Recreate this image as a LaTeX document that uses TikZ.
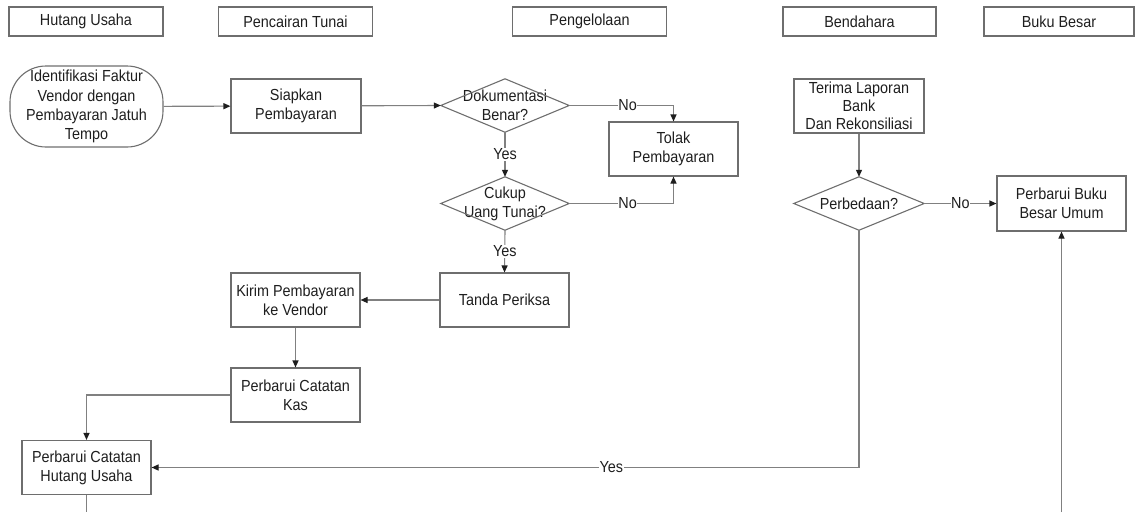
\documentclass[tikz,border=0pt]{standalone}
\usepackage{fontspec}
\setmainfont{Liberation Sans}[FakeStretch=0.9]
\usetikzlibrary{arrows.meta}

\definecolor{edgegray}{HTML}{6E6E6E}
\definecolor{linegray}{HTML}{808080}
\definecolor{inkgray}{HTML}{1E1E1E}
\newcommand{\flowfont}{\fontsize{16}{19.2}\selectfont}

\tikzset{
  outline/.style={draw=edgegray, line width=1.1pt},
  header/.style={outline, minimum width=154pt, minimum height=29pt, inner sep=0pt,
    font=\flowfont, text=inkgray},
  procbox/.style={outline, minimum width=129pt, minimum height=54pt, inner sep=0pt,
    align=center, font=\flowfont, text=inkgray},
  terminal/.style={outline, rounded corners=36pt, minimum width=153pt, minimum height=81pt,
    inner sep=0pt, align=center, font=\flowfont, text=inkgray},
  decision/.style={minimum width=128pt, minimum height=53pt, inner sep=0pt,
    align=center, font=\flowfont, text=inkgray},
  flow/.style={draw=linegray, line width=1.1pt},
  arrowed/.style={flow, -{Triangle[length=7pt,width=6pt,color=inkgray]}},
  tag/.style={fill=white, inner sep=0.6pt, font=\flowfont, text=inkgray}
}

\begin{document}
\begin{tikzpicture}[x=1pt, y=-1pt]
\useasboundingbox (0,0) rectangle (1136,512);

% column headers
\node[header] (hAP)   at (86,21.5)   {Hutang Usaha};
\node[header] (hCash) at (295.5,21.5) {Pencairan Tunai};
\node[header] (hProc) at (589.5,21.5) {Pengelolaan};
\node[header, minimum width=153pt] (hTreas) at (859.5,21.5) {Bendahara};
\node[header, minimum width=150pt] (hGL)    at (1059,21.5)  {Buku Besar};

% process steps
\node[terminal] (start) at (86.5,106.5)
  {Identifikasi Faktur\\Vendor dengan\\Pembayaran Jatuh\\Tempo};
\node[procbox, minimum width=130pt] (prep) at (296,106) {Siapkan\\Pembayaran};
\node[decision] (docok) at (505,105.5) {Dokumentasi\\Benar?};
\node[procbox] (reject) at (673.5,149) {Tolak\\Pembayaran};
\node[decision] (cashok) at (505,203.5) {Cukup\\Uang Tunai?};
\node[procbox] (check) at (504.5,300) {Tanda Periksa};
\node[procbox] (send) at (295.5,300) {Kirim Pembayaran\\ke Vendor};
\node[procbox] (cashrec) at (295.5,395) {Perbarui Catatan\\Kas};
\node[procbox] (aprec) at (86.5,467.5) {Perbarui Catatan\\Hutang Usaha};
\node[procbox, minimum width=130pt, font=\fontsize{16}{18}\selectfont] (bank) at (859,106)
  {Terima Laporan\\Bank\\Dan Rekonsiliasi};
\node[decision, minimum width=130pt] (diff) at (859,203.5) {Perbedaan?};
\node[procbox, minimum height=55pt] (gl) at (1061.5,203.5) {Perbarui Buku\\Besar Umum};

% diamond outlines of the decisions
\foreach \d in {docok,cashok,diff}
  \draw[outline] (\d.north) -- (\d.east) -- (\d.south) -- (\d.west) -- cycle;

% free line ends at the lower border
\coordinate (apout) at (86.5,512);
\coordinate (glin)  at (1061.5,512);

% connectors
\draw[arrowed] (start) -- (prep);
\draw[arrowed] (prep) -- (docok.west);
\draw[arrowed] (docok.east) -| node[tag, pos=0.28] {No} (reject.north);
\draw[arrowed] (docok.south) -- node[tag] {Yes} (cashok.north);
\draw[arrowed] (cashok.east) -| node[tag, pos=0.28] {No} (reject.south);
\draw[arrowed] (cashok.south) -- node[tag] {Yes} (check.north);
\draw[arrowed] (check) -- (send);
\draw[arrowed] (send) -- (cashrec);
\draw[arrowed] (cashrec.west) -| (aprec.north);
\draw[arrowed] (bank) -- (diff.north);
\draw[arrowed] (diff.east) -- node[tag] {No} (gl.west);
\draw[arrowed] (diff.south) |- node[tag, pos=0.675] {Yes} (aprec.east);
\draw[flow] (aprec.south) -- (apout);
\draw[arrowed] (glin) -- (gl.south);
\end{tikzpicture}
\end{document}
